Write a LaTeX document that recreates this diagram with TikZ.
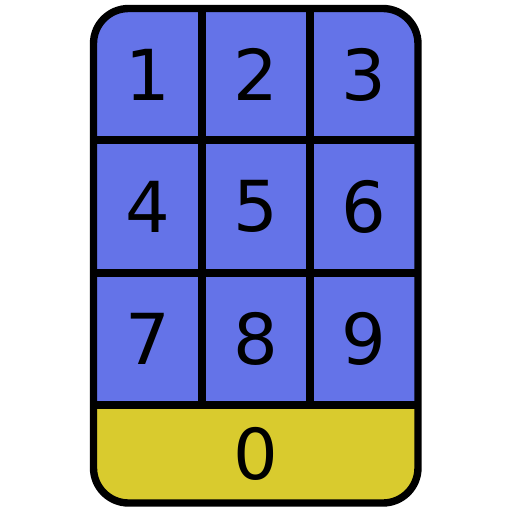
\documentclass[tikz,border=0pt]{standalone}
\usepackage{fontspec}
\setmainfont{DejaVu Sans}
\definecolor{keyblue}{RGB}{100,115,232}
\definecolor{keyyellow}{RGB}{217,203,46}
\tikzset{
  digit/.style={font=\fontsize{40}{40}\selectfont, inner sep=0pt},
  grid line/.style={line width=4.2pt}
}
\begin{document}
\begin{tikzpicture}[x=0.02cm, y=-0.02cm]
      \useasboundingbox (0,0) rectangle (512,512);
      % body and zero key
      \fill[keyblue, rounded corners=20] (93.5,8.5) rectangle (418,503);
      \begin{scope}
        \clip[rounded corners=20] (93.5,8.5) rectangle (418,503);
        \fill[keyyellow] (93.5,405) rectangle (418,503);
      \end{scope}
      % grid
      \draw[grid line] (202,8.5) -- (202,405);
      \draw[grid line] (310,8.5) -- (310,405);
      \draw[grid line] (93.5,140) -- (418,140);
      \draw[grid line] (93.5,273) -- (418,273);
      \draw[grid line] (93.5,405) -- (418,405);
      \draw[grid line, rounded corners=20] (93.5,8.5) rectangle (418,503);
      % keys
      \node[digit] (k1) at (147.5,74.5) {1};
      \node[digit] (k2) at (256,74.5) {2};
      \node[digit] (k3) at (364,74.5) {3};
      \node[digit] (k4) at (147.5,206.5) {4};
      \node[digit] (k5) at (256,206.5) {5};
      \node[digit] (k6) at (364,206.5) {6};
      \node[digit] (k7) at (147.5,339) {7};
      \node[digit] (k8) at (256,339) {8};
      \node[digit] (k9) at (364,339) {9};
      \node[digit] (k0) at (256,454) {0};
\end{tikzpicture}
\end{document}
